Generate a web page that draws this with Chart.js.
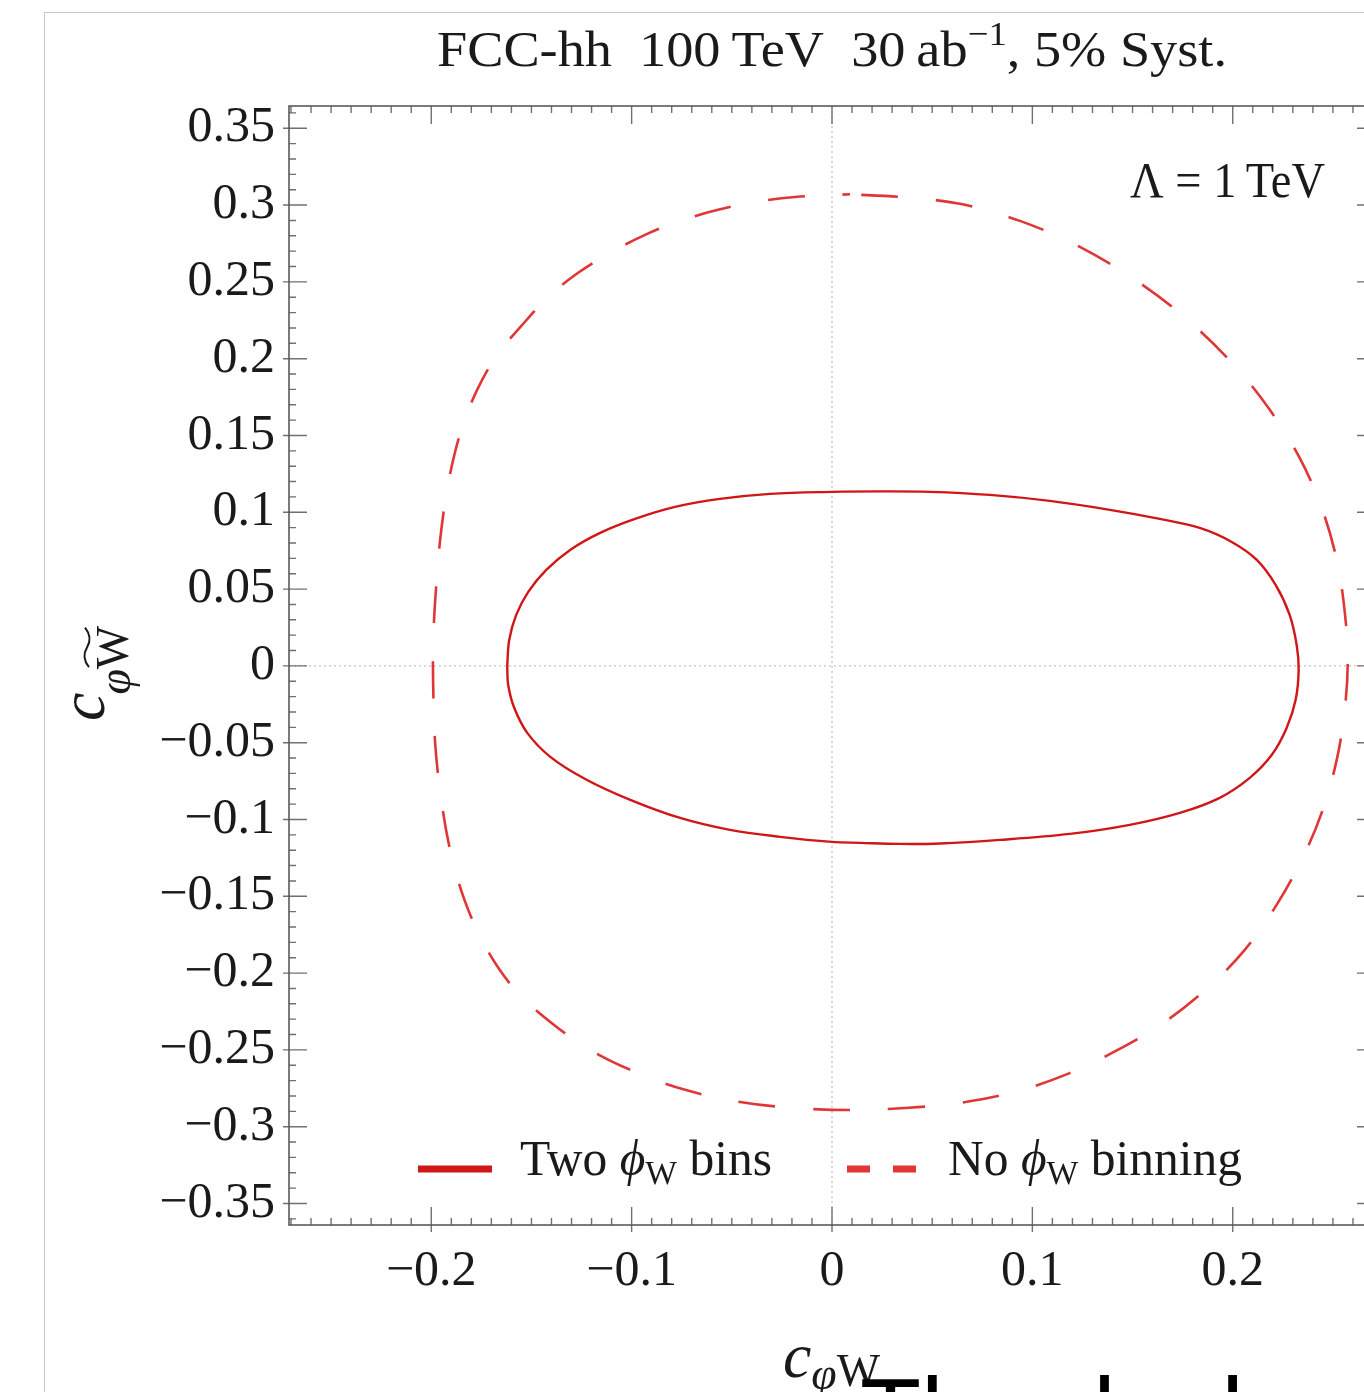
<!DOCTYPE html>
<html>
<head>
<meta charset="utf-8">
<script src="https://cdn.jsdelivr.net/npm/chart.js@4.4.0/dist/chart.umd.min.js"></script>
<style>
  html, body { margin: 0; padding: 0; background: #fff; overflow: hidden; width: 1364px; height: 1392px; }
  #frame { position: absolute; left: 44px; top: 12px; width: 1400px; height: 1500px; border: 1px solid #c6c6c6; }
  #wrap { position: absolute; left: 0; top: 0; width: 1400px; height: 1392px; }
  #caption { position: absolute; left: 860px; top: 1363px; font-family: "Liberation Sans", Arial, sans-serif;
             font-size: 100px; line-height: 100px; color: #000; white-space: nowrap; }
</style>
</head>
<body>
<div id="frame"></div>
<div id="wrap"><canvas id="contourChart"></canvas></div>
<div id="caption">The dashed</div>
<script>
// axis setup
const xTickValues = [-0.2, -0.1, 0, 0.1, 0.2];
const yTickValues = [-0.35, -0.3, -0.25, -0.2, -0.15, -0.1, -0.05, 0, 0.05, 0.1, 0.15, 0.2, 0.25, 0.3, 0.35];
const xMin = -0.271, xMax = 0.271;
const yMin = -0.364, yMax = 0.3645;

// "Two phi_W bins" contour (solid)
const solidX = [-0.1621, -0.1611, -0.1576, -0.1516, -0.1426, -0.1307, -0.1157, -0.0983, -0.0783, -0.0559, -0.0309, 0,
  0.0239, 0.0489, 0.0788, 0.1087, 0.1387, 0.1636, 0.1835, 0.1995, 0.2120, 0.2214, 0.2284, 0.2319, 0.2329, 0.2314,
  0.2269, 0.2195, 0.2085, 0.1935, 0.1736, 0.1486, 0.1187, 0.0838, 0.0539, 0.0339, 0.0140, 0,
  -0.0259, -0.0509, -0.0758, -0.1007, -0.1232, -0.1406, -0.1521, -0.1586, -0.1616];
const solidY = [0, 0.0169, 0.0332, 0.0482, 0.0625, 0.0755, 0.0866, 0.0957, 0.1035, 0.1087, 0.1120, 0.1133,
  0.1136, 0.1133, 0.1113, 0.1074, 0.1016, 0.0957, 0.0898, 0.0807, 0.0690, 0.0527, 0.0332, 0.0137, -0.0026, -0.0221,
  -0.0404, -0.0579, -0.0729, -0.0859, -0.0957, -0.1035, -0.1094, -0.1133, -0.1156, -0.1159, -0.1152, -0.1146,
  -0.1113, -0.1068, -0.0990, -0.0872, -0.0736, -0.0592, -0.0436, -0.0273, -0.0124];

// "No phi_W binning" contour (dashed)
const dashedX = [0.009, 0.0339, 0.0638, 0.0938, 0.1237, 0.1536, 0.1786, 0.2010, 0.2185, 0.2334, 0.2444, 0.2519,
  0.2559, 0.2574, 0.2559, 0.2519, 0.2449, 0.2349, 0.2219, 0.2060, 0.1875, 0.1661, 0.1426, 0.1177, 0.0913, 0.0638,
  0.0364, 0.0090, -0.0185, -0.0459, -0.0733, -0.0983, -0.1207, -0.1406, -0.1581, -0.1721, -0.1825, -0.1900, -0.1950,
  -0.1980, -0.1990, -0.1990, -0.1975, -0.1950, -0.1910, -0.1850, -0.1771, -0.1671, -0.1546, -0.1416, -0.1267,
  -0.1107, -0.0933, -0.0758, -0.0569, -0.0379, -0.0185];
const dashedY = [0.3070, 0.3053, 0.3008, 0.2897, 0.2728, 0.2493, 0.2240, 0.1953, 0.1667, 0.1354, 0.1029, 0.0690,
  0.0352, 0.0039, -0.0286, -0.0612, -0.0938, -0.1250, -0.1556, -0.1849, -0.2096, -0.2318, -0.2500, -0.2656, -0.2773,
  -0.2845, -0.2878, -0.2891, -0.2878, -0.2839, -0.2760, -0.2643, -0.2500, -0.2318, -0.2109, -0.1849, -0.1556,
  -0.1230, -0.0872, -0.0514, -0.0156, 0.0169, 0.0527, 0.0885, 0.1224, 0.1536, 0.1797, 0.2025, 0.2220, 0.2402,
  0.2559, 0.2689, 0.2806, 0.2897, 0.2969, 0.3021, 0.3053];

const SERIF = '"Liberation Serif", "Times New Roman", serif';
const font = (size, style) => `${style || ''} ${size}px ${SERIF}`;

// closed loop of {x, y}
const loop = (xs, ys) => {
  const pts = xs.map((x, i) => ({ x: x, y: ys[i] }));
  pts.push({ x: xs[0], y: ys[0] });
  return pts;
};

const fmt = (v) => {
  if (Math.abs(v) < 1e-9) return '0';
  return (v < 0 ? '\u2212' : '') + String(Math.round(Math.abs(v) * 100) / 100);
};

// draws a run of text pieces (for sub/superscripts); optional width fit
function drawParts(ctx, parts, x, y, align, fitWidth) {
  let w = 0;
  parts.forEach(p => {
    ctx.font = p.font;
    p.w = ctx.measureText(p.t).width + (p.gap || 0);
    w += p.w;
  });
  const sx = fitWidth ? fitWidth / w : 1;
  const total = w * sx;
  let start = align === 'center' ? x - total / 2 : align === 'right' ? x - total : x;
  ctx.save();
  ctx.translate(start, y);
  ctx.scale(sx, 1);
  let cx = 0;
  parts.forEach(p => {
    ctx.font = p.font;
    ctx.fillText(p.t, cx + (p.dx || 0), p.dy || 0);
    cx += p.w;
  });
  ctx.restore();
}

const decor = {
  id: 'decor',
  beforeDatasetsDraw(chart) {
    const { ctx, chartArea: a, scales: { x, y } } = chart;
    ctx.save();
    ctx.strokeStyle = '#c4c4c4';
    ctx.lineWidth = 1.3;
    ctx.setLineDash([2, 3]);
    const x0 = x.getPixelForValue(0), y0 = y.getPixelForValue(0);
    ctx.beginPath();
    ctx.moveTo(x0, a.top); ctx.lineTo(x0, a.bottom);
    ctx.moveTo(a.left, y0); ctx.lineTo(a.right, y0);
    ctx.stroke();
    ctx.restore();
  },
  afterDatasetsDraw(chart) {
    const { ctx, chartArea: a, scales: { x, y } } = chart;
    ctx.save();

    // ticks (inward, major ones cross the labelled axes)
    ctx.strokeStyle = '#707070';
    ctx.lineWidth = 1.4;
    ctx.beginPath();
    for (let i = -27; i <= 27; i++) {
      const px = x.getPixelForValue(i / 100);
      const major = i % 10 === 0;
      const len = major ? 18 : 7;
      ctx.moveTo(px, a.bottom + (major ? 7 : 0)); ctx.lineTo(px, a.bottom - len);
      ctx.moveTo(px, a.top); ctx.lineTo(px, a.top + len);
    }
    for (let i = -36; i <= 36; i++) {
      const py = y.getPixelForValue(i / 100);
      const major = i % 5 === 0;
      const len = major ? 18 : 7;
      ctx.moveTo(a.left - (major ? 6 : 0), py); ctx.lineTo(a.left + len, py);
      ctx.moveTo(a.right, py); ctx.lineTo(a.right - len, py);
    }
    ctx.stroke();

    // frame
    ctx.strokeStyle = '#5a5a5a';
    ctx.lineWidth = 1.6;
    ctx.strokeRect(a.left, a.top, a.right - a.left, a.bottom - a.top);

    ctx.fillStyle = '#1a1a1a';
    ctx.textBaseline = 'alphabetic';

    // title
    drawParts(ctx, [
      { t: 'FCC-hh  100\u2009TeV  30\u2009ab', font: font(50) },
      { t: '\u22121', font: font(34), dy: -21 },
      { t: ', 5% Syst.', font: font(50) }
    ], 832, 66, 'center', 790);

    // Lambda annotation
    drawParts(ctx, [{ t: '\u039B = 1\u2009TeV', font: font(50) }], 1325, 197, 'right', 195);

    // legend
    const ds = chart.data.datasets;
    ctx.lineCap = 'butt';
    ctx.strokeStyle = ds[0].borderColor;
    ctx.lineWidth = 7;
    ctx.setLineDash([]);
    ctx.beginPath(); ctx.moveTo(418, 1169); ctx.lineTo(492, 1169); ctx.stroke();
    ctx.strokeStyle = ds[1].borderColor;
    ctx.setLineDash([23, 23]);
    ctx.beginPath(); ctx.moveTo(847, 1169); ctx.lineTo(918, 1169); ctx.stroke();
    ctx.setLineDash([]);

    drawParts(ctx, [
      { t: 'Two ', font: font(50) },
      { t: '\u03D5', font: font(50, 'italic') },
      { t: 'W', font: font(34), dy: 9 },
      { t: ' bins', font: font(50) }
    ], 520, 1175, 'left', 252);
    drawParts(ctx, [
      { t: 'No ', font: font(50) },
      { t: '\u03D5', font: font(50, 'italic') },
      { t: 'W', font: font(34), dy: 9 },
      { t: ' binning', font: font(50) }
    ], 948, 1175, 'left', 294);

    // x axis title  c_{phi W}
    drawParts(ctx, [
      { t: 'c', font: font(64, 'italic') },
      { t: '\u03C6', font: font(46, 'italic'), dy: 12 },
      { t: 'W', font: font(46), dy: 9 }
    ], 783, 1377, 'left', 97);

    // y axis title  c_{phi W~}, rotated
    ctx.save();
    ctx.translate(104, 721);
    ctx.rotate(-Math.PI / 2);
    ctx.font = font(64, 'italic');
    const cw = ctx.measureText('c').width;
    ctx.fillText('c', 0, 0);
    ctx.font = font(46, 'italic');
    ctx.fillText('\u03C6', cw - 2, 26);
    const pw = ctx.measureText('\u03C6').width;
    ctx.font = font(46);
    const wx = cw - 2 + pw;
    ctx.fillText('W', wx, 24);
    const ww = ctx.measureText('W').width;
    // wide tilde over the W
    const u0 = wx + 2, L = ww - 4, vc = -17;
    ctx.strokeStyle = '#1a1a1a';
    ctx.lineWidth = 2;
    ctx.beginPath();
    ctx.moveTo(u0, vc + 2);
    ctx.quadraticCurveTo(u0 + L / 4, vc - 6, u0 + L / 2, vc);
    ctx.quadraticCurveTo(u0 + 3 * L / 4, vc + 6, u0 + L, vc - 2);
    ctx.stroke();
    ctx.restore();

    ctx.restore();
  }
};

new Chart(document.getElementById('contourChart'), {
  type: 'scatter',
  data: {
    datasets: [
      {
        label: 'Two \u03D5W bins',
        data: loop(solidX, solidY),
        showLine: true,
        borderColor: '#d01616',
        borderWidth: 2.4,
        pointRadius: 0,
        tension: 0.35,
        fill: false
      },
      {
        label: 'No \u03D5W binning',
        data: loop(dashedX, dashedY),
        showLine: true,
        borderColor: '#e03636',
        borderWidth: 2.6,
        borderDash: [37, 38],
        borderDashOffset: 64,
        pointRadius: 0,
        tension: 0.35,
        fill: false
      }
    ]
  },
  options: {
    responsive: true,
    maintainAspectRatio: false,
    animation: false,
    events: [],
    layout: { padding: { left: 0, top: 106, right: 25, bottom: 0 } },
    plugins: {
      legend: { display: false },
      tooltip: { enabled: false },
      title: { display: false }
    },
    scales: {
      x: {
        type: 'linear',
        min: xMin,
        max: xMax,
        grid: { display: false, drawTicks: false },
        border: { display: false },
        afterBuildTicks: s => { s.ticks = xTickValues.map(v => ({ value: v })); },
        afterFit: s => { s.height = 167; },
        ticks: {
          autoSkip: false,
          maxRotation: 0,
          padding: 17,
          color: '#1a1a1a',
          font: { family: SERIF, size: 50 },
          callback: v => fmt(v)
        }
      },
      y: {
        type: 'linear',
        min: yMin,
        max: yMax,
        grid: { display: false, drawTicks: false },
        border: { display: false },
        afterBuildTicks: s => { s.ticks = yTickValues.map(v => ({ value: v })); },
        afterFit: s => { s.width = 289; },
        ticks: {
          autoSkip: false,
          padding: 14,
          color: '#1a1a1a',
          font: { family: SERIF, size: 50 },
          callback: v => fmt(v)
        }
      }
    }
  },
  plugins: [decor]
});
</script>
</body>
</html>
